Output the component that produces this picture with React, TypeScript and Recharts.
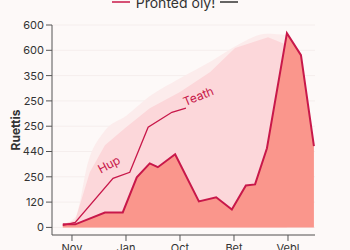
import React from "react";
import { ComposedChart, Area, Line, XAxis, YAxis, CartesianGrid, LabelList } from "recharts";

const xTicks = [1, 2, 3, 4, 5];
const xLabels = ["Nov", "Jan", "Oct", "Bet", "Vebl"];
const yTicks = [0, 100, 200, 300, 400, 500, 600, 700, 800];
const yLabels = ["0", "120", "250", "440", "250", "250", "350", "600", "600"];

const mainX = [0.83, 1.06, 1.61, 1.94, 2.2, 2.44, 2.59, 2.91, 3.35, 3.67, 3.96, 4.22, 4.39, 4.61, 4.98, 5.24, 5.48];
const mainY = [12, 12, 59, 59, 198, 253, 238, 289, 103, 119, 71, 166, 170, 313, 768, 681, 321];

const thinX = [0.83, 1.06, 1.76, 2.07, 2.41, 2.85, 3.11];
const thinY = [8, 20, 194, 218, 396, 455, 471];
const thinNotes = ["", "", "Hup", "", "", "", "Teath"];

const paleX = [0.83, 1.06, 1.33, 1.61, 1.98, 2.44, 3.0, 3.56, 4.02, 4.63, 4.94, 4.98];
const paleY = [12, 28, 218, 325, 392, 471, 535, 614, 709, 752, 725, 740];

const haloX = [0.83, 1.06, 1.3, 1.6, 2.0, 2.45, 3.0, 3.6, 4.1, 4.6, 4.98];
const haloY = [12, 40, 260, 380, 440, 520, 590, 660, 725, 765, 760];

const mainData = mainX.map((x, i) => ({ x, v: mainY[i] }));
const thinData = thinX.map((x, i) => ({ x, t: thinY[i], note: thinNotes[i] }));
const paleData = paleX.map((x, i) => ({ x, p: paleY[i] }));
const haloData = haloX.map((x, i) => ({ x, h: haloY[i] }));

const RED = "#c8184a";

const NoteLabel = (props: any) => {
  const { x, y, value } = props;
  if (!value) return null;
  if (value === "Hup") {
    return (
      <text x={x - 2} y={y - 10} fill={RED} fontSize={12} textAnchor="middle"
        transform={`rotate(-28 ${x - 2} ${y - 10})`} fontFamily="Inter, sans-serif">{value}</text>
    );
  }
  return (
    <text x={x + 14} y={y - 8} fill={RED} fontSize={12} textAnchor="middle"
      transform={`rotate(-22 ${x + 14} ${y - 8})`} fontFamily="Inter, sans-serif">{value}</text>
  );
};

export default function App() {
  return (
    <div style={{ position: "absolute", left: 0, top: 0, width: 350, height: 250, background: "#fdf9f8", overflow: "hidden", fontFamily: "Inter, sans-serif" }}>
      <ComposedChart width={350} height={250} margin={{ top: 25, right: 35, bottom: 0, left: 0 }}>
        <CartesianGrid vertical={false} stroke="#f5eeed" />
        <XAxis dataKey="x" type="number" domain={[0.63, 5.5]} allowDataOverflow ticks={xTicks}
          tickFormatter={(v: number) => xLabels[xTicks.indexOf(v)] ?? ""}
          height={15} stroke="#555" tick={{ fill: "#333", fontSize: 11 }} tickMargin={3} />
        <YAxis type="number" domain={[-30, 800]} ticks={yTicks} allowDataOverflow width={52}
          tickFormatter={(v: number) => yLabels[yTicks.indexOf(v)] ?? ""}
          stroke="#555" tick={{ fill: "#333", fontSize: 11 }}
          label={{ value: "Ruettis", angle: -90, position: "insideLeft", offset: 16, style: { fontWeight: 700, fontSize: 12, fill: "#333", textAnchor: "middle" } }} />
        <Area data={haloData} dataKey="h" type="monotone" stroke="none" fill="#fcecec" fillOpacity={1} isAnimationActive={false} />
        <Area data={paleData} dataKey="p" type="linear" stroke="none" fill="#fcd7da" fillOpacity={1} isAnimationActive={false} />
        <Area data={mainData} dataKey="v" type="linear" stroke={RED} strokeWidth={2} fill="#fa968c" fillOpacity={1} isAnimationActive={false} />
        <Line data={thinData} dataKey="t" type="linear" stroke={RED} strokeWidth={1.3} dot={false} isAnimationActive={false}>
          <LabelList dataKey="note" content={<NoteLabel />} />
        </Line>
      </ComposedChart>
      <div style={{ position: "absolute", top: -8, left: 0, width: 350, height: 20, display: "flex", justifyContent: "center", alignItems: "center", fontSize: 14, color: "#333" }}>
        <svg width={18} height={4} style={{ marginRight: 6 }}><line x1={0} y1={2} x2={18} y2={2} stroke={RED} strokeWidth={1.5} /></svg>
        <span>Pronted oly!</span>
        <svg width={18} height={4} style={{ marginLeft: 5 }}><line x1={0} y1={2} x2={18} y2={2} stroke="#333" strokeWidth={1.5} /></svg>
      </div>
    </div>
  );
}
